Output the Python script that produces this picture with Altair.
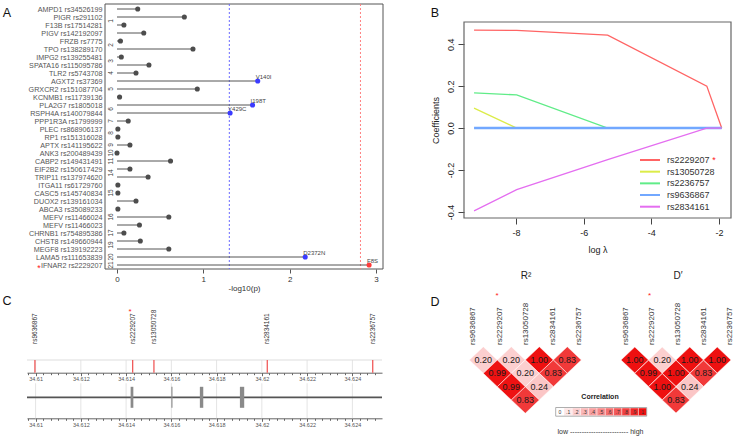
import altair as alt
import pandas as pd

FONT = "Liberation Sans"
W, H = 737, 437

# ---------------- Panel A data ----------------
a_genes = ["AMPD1", "PIGR", "F13B", "PIGV", "FRZB", "TPO", "IMPG2", "SPATA16", "TLR2", "AGXT2",
           "GRXCR2", "KCNMB1", "PLA2G7", "RSPH4A", "PPP1R3A", "PLEC", "RP1", "APTX", "ANK3", "CABP2",
           "EIF2B2", "TRIP11", "ITGA11", "CASC5", "DUOX2", "ABCA3", "MEFV", "MEFV", "CHRNB1", "CHST8",
           "MEGF8", "LAMA5", "IFNAR2"]
a_snps = ["rs34526199", "rs291102", "rs17514281", "rs142192097", "rs7775", "rs138289170", "rs139255481",
          "rs115095786", "rs5743708", "rs37369", "rs151087704", "rs11739136", "rs1805018", "rs140079844",
          "rs1799999", "rs868906137", "rs151316028", "rs141195622", "rs200489439", "rs149431491",
          "rs150617429", "rs137974620", "rs61729760", "rs145740834", "rs139161034", "rs35089233",
          "rs11466024", "rs11466023", "rs754895386", "rs149660944", "rs139192223", "rs111653839", "rs2229207"]
a_chrom = [1, 1, 1, 1, 2, 2, 3, 3, 4, 5, 5, 5, 6, 6, 7, 8, 8, 9, 10, 11, 14, 14, 15, 15, 15, 16, 16, 16,
           17, 19, 19, 20, 21]
a_neglog10p = [0.24, 0.78, 0.08, 0.31, 0.04, 0.88, 0.05, 0.37, 0.22, 1.63, 0.93, 0.03, 1.57, 1.31, 0.13,
               0.01, 0.01, 0.15, 0.00, 0.62, 0.15, 0.36, 0.01, 0.01, 0.22, 0.01, 0.60, 0.26, 0.08, 0.27,
               0.60, 2.18, 2.92]
a_aa_change = ["", "", "", "", "", "", "", "", "", "V140I", "", "", "I198T", "Y429C", "", "", "", "", "",
               "", "", "", "", "", "", "", "", "", "", "", "", "D2372N", "F8S"]
a_thr_nominal = 1.301
a_thr_bonf = 2.82

# ---------------- Panel B data ----------------
b_loglambda = [-9.24, -7.98, -5.29, -2.36, -1.92]
b_snps = ["rs2229207", "rs13050728", "rs2236757", "rs9636867", "rs2834161"]
b_coef_rs2229207 = [0.467, 0.466, 0.443, 0.200, 0.0]
b_coef_rs13050728 = [0.095, 0.0, 0.0, 0.0, 0.0]
b_coef_rs2236757 = [0.168, 0.158, 0.0, 0.0, 0.0]
b_coef_rs9636867 = [0.0, 0.0, 0.0, 0.0, 0.0]
b_coef_rs2834161 = [-0.395, -0.294, -0.150, 0.0, 0.0]
b_colors = ["#ff6464", "#dcec48", "#60ec88", "#72a8ff", "#e46ef0"]

# ---------------- Panel C data ----------------
c_snps = ["rs9636867", "rs2229207", "rs13050728", "rs2834161", "rs2236757"]
c_pos_mb = [34.60997, 34.61429, 34.61523, 34.62024, 34.62490]
c_exon_start = [34.61420, 34.61600, 34.61726, 34.61903]
c_exon_end = [34.61432, 34.61605, 34.61741, 34.61922]
c_major_ticks = [34.610, 34.612, 34.614, 34.616, 34.618, 34.620, 34.622, 34.624]

# ---------------- Panel D data ----------------
d_snps = ["rs9636867", "rs2229207", "rs13050728", "rs2834161", "rs2236757"]
d_pair_i = [0, 1, 2, 3, 0, 1, 2, 0, 1, 0]
d_pair_j = [1, 2, 3, 4, 2, 3, 4, 3, 4, 4]
d_r2 = [0.20, 0.20, 1.00, 0.83, 0.99, 0.20, 0.83, 0.99, 0.24, 0.83]
d_dprime = [1.00, 0.20, 1.00, 1.00, 0.99, 1.00, 0.83, 1.00, 0.24, 0.83]
d_legend_breaks = [0.0, 0.1, 0.2, 0.3, 0.4, 0.5, 0.6, 0.7, 0.8, 0.9, 1.0]
d_legend_labels = ["0", ".1", ".2", ".3", ".4", ".5", ".6", ".7", ".8", ".9", "1"]


def sc(dom, rng):
    return alt.Scale(domain=dom, range=rng, nice=False, zero=False)


def Q(field, scale, axis=None, ch=alt.X):
    return ch(field, type="quantitative", scale=scale, axis=axis)


def nolabel_text(text, x, y, size, **kw):
    return alt.Chart(pd.DataFrame({"t": [text]})).mark_text(
        fontSize=size, font=FONT, **kw).encode(x=alt.value(x), y=alt.value(y), text="t:N")


layers = []

# ======================= Panel A =======================
xA_dom = [-0.139, 3.081]
yA_dom = [-0.625, 32.5]
xA = sc(xA_dom, [105, 383])
yA = sc(yA_dom, [4, 269])

df_a = pd.DataFrame({
    "row": list(range(len(a_genes))),
    "label": [g + " " + s for g, s in zip(a_genes, a_snps)],
    "snp": a_snps,
    "chrom": [str(c) for c in a_chrom],
    "p": a_neglog10p,
    "aa": a_aa_change,
})
label_js = "[" + ",".join("'%s'" % l for l in df_a["label"]) + "]"

frameA_df = pd.DataFrame({"x0": [xA_dom[0]], "x1": [xA_dom[1]], "y0": [yA_dom[0]], "y1": [yA_dom[1]]})
frameA = alt.Chart(frameA_df).mark_rect(fill="white", fillOpacity=0, stroke="#555555", strokeWidth=1).encode(
    x=Q("x0", xA, alt.Axis(orient="bottom", offset=269 - H, values=[0, 1, 2, 3], tickSize=4,
                           tickColor="#555555", domain=False, grid=False, labelFontSize=8,
                           labelColor="#333333", labelPadding=2, labelFont=FONT,
                           title="-log10(p)", titleFontSize=8, titleFontWeight="normal",
                           titleColor="#333333", titlePadding=1, titleFont=FONT)),
    x2="x1:Q",
    y=Q("y0", yA, alt.Axis(orient="left", offset=-105, values=list(range(len(a_genes))),
                           labelExpr=label_js + "[datum.value]", ticks=False, domain=False,
                           grid=False, labelFontSize=7.2, labelColor="#555555", labelPadding=3,
                           labelFont=FONT, title=None, labelOverlap=False), ch=alt.Y),
    y2="y1:Q",
)
layers.append(frameA)

thr_df = pd.DataFrame({"t": [a_thr_nominal, a_thr_bonf], "kind": ["nominal", "bonf"],
                       "y0": [yA_dom[0]] * 2, "y1": [yA_dom[1]] * 2})
thrA = alt.Chart(thr_df).mark_rule(strokeDash=[2, 2], strokeWidth=1).encode(
    x=Q("t", xA), y=Q("y0", yA, ch=alt.Y), y2="y1:Q",
    color=alt.Color("kind:N", scale=alt.Scale(domain=["nominal", "bonf"], range=["#6a6aff", "#ff8080"]),
                    legend=None))
layers.append(thrA)

stemsA = alt.Chart(df_a).transform_calculate(zero="0").mark_rule(color="#555555", strokeWidth=1).encode(
    x=Q("zero", xA), x2="p:Q", y=Q("row", yA, ch=alt.Y))
layers.append(stemsA)

sig_expr = "datum.p > %f ? 'bonf' : (datum.p > %f ? 'nominal' : 'ns')" % (a_thr_bonf, a_thr_nominal)
pointsA = alt.Chart(df_a).transform_calculate(sig=sig_expr).mark_circle(size=26, opacity=1).encode(
    x=Q("p", xA), y=Q("row", yA, ch=alt.Y),
    color=alt.Color("sig:N", scale=alt.Scale(domain=["ns", "nominal", "bonf"],
                                             range=["#4d4d4d", "#3b3bff", "#ff3b3b"]), legend=None))
layers.append(pointsA)

aaA = alt.Chart(df_a).transform_filter("datum.aa != ''").mark_text(
    align="left", baseline="bottom", dx=-2, dy=-1.5, fontSize=6, font=FONT, color="#444444").encode(
    x=Q("p", xA), y=Q("row", yA, ch=alt.Y), text="aa:N")
layers.append(aaA)

chromA = alt.Chart(df_a).transform_aggregate(mid="mean(row)", groupby=["chrom"]).transform_calculate(
    cx="-0.07").mark_text(angle=270, fontSize=6.5, font=FONT, color="#444444", align="center",
                          baseline="middle").encode(
    x=Q("cx", xA), y=Q("mid", yA, ch=alt.Y), text="chrom:N")
layers.append(chromA)

starA = alt.Chart(df_a).transform_filter("datum.snp == 'rs2229207'").mark_text(
    text="*", color="#ff2020", fontSize=9, font=FONT, dy=3).encode(
    x=alt.value(39), y=Q("row", yA, ch=alt.Y))
layers.append(starA)

# ======================= Panel B =======================
xB_dom = [-9.537, -1.645]
yB_dom = [-0.429, 0.506]
xB = sc(xB_dom, [464, 731])
yB = sc(yB_dom, [218, 22])

frameB_df = pd.DataFrame({"x0": [xB_dom[0]], "x1": [xB_dom[1]], "y0": [yB_dom[0]], "y1": [yB_dom[1]]})
minus_fix = "replace(format(datum.value, '%s'), '\u2212', '-')"
frameB = alt.Chart(frameB_df).mark_rect(fill="white", fillOpacity=0, stroke="#666666", strokeWidth=1.2).encode(
    x=Q("x0", xB, alt.Axis(orient="bottom", offset=218 - H, values=[-8, -6, -4, -2], tickSize=6,
                           tickColor="#444444", domain=False, grid=False, labelFontSize=9,
                           labelColor="#222222", labelPadding=4, labelFont=FONT,
                           labelExpr=minus_fix % "d",
                           title="log \u03bb", titleFontSize=9, titleFontWeight="normal",
                           titleColor="#222222", titlePadding=8, titleFont=FONT)),
    x2="x1:Q",
    y=Q("y0", yB, alt.Axis(orient="left", offset=-464, values=[-0.4, -0.2, 0.0, 0.2, 0.4], tickSize=6,
                           tickColor="#444444", domain=False, grid=False, labelFontSize=9,
                           labelColor="#222222", labelPadding=3, labelFont=FONT, labelAngle=270,
                           labelAlign="center", labelBaseline="bottom",
                           labelExpr=minus_fix % ".1f",
                           title="Coefficients", titleFontSize=9, titleFontWeight="normal",
                           titleColor="#222222", titlePadding=6, titleFont=FONT), ch=alt.Y),
    y2="y1:Q",
)
layers.append(frameB)

b_coefs = [b_coef_rs2229207, b_coef_rs13050728, b_coef_rs2236757, b_coef_rs9636867, b_coef_rs2834161]
b_widths = [1.3, 1.3, 1.3, 2.6, 1.3]
for name, coefs, col, w in zip(b_snps, b_coefs, b_colors, b_widths):
    dfl = pd.DataFrame({"loglambda": b_loglambda, "coef": coefs})
    layers.append(alt.Chart(dfl).mark_line(color=col, strokeWidth=w).encode(
        x=Q("loglambda", xB), y=Q("coef", yB, ch=alt.Y)))

yLeg = sc([0, 4], [160, 206.7])
df_bleg = pd.DataFrame({"snp": b_snps, "k": list(range(len(b_snps)))})
layers.append(alt.Chart(df_bleg).mark_rule(strokeWidth=2).encode(
    x=alt.value(640), x2=alt.value(660), y=Q("k", yLeg, ch=alt.Y),
    color=alt.Color("snp:N", scale=alt.Scale(domain=b_snps, range=b_colors), legend=None)))
layers.append(alt.Chart(df_bleg).mark_text(align="left", baseline="middle", fontSize=9, font=FONT,
                                           color="#333333").encode(
    x=alt.value(667), y=Q("k", yLeg, ch=alt.Y), text="snp:N"))
layers.append(alt.Chart(df_bleg).transform_filter("datum.snp == 'rs2229207'").mark_text(
    text="*", color="#ff2020", fontSize=9, font=FONT, dy=0).encode(
    x=alt.value(714), y=Q("k", yLeg, ch=alt.Y)))

# ======================= Panel C =======================
xC_dom = [34.60962, 34.62531]
xC = sc(xC_dom, [27, 382])
yT = sc([0, 1], [372.7, 360])
yBt = sc([-1, 1], [418.3, 376.3])

c_minor = [round(34.610 + k * 0.002 / 6, 6) for k in range(-1, 46)]
c_minor = [v for v in c_minor if xC_dom[0] <= v <= xC_dom[1]]


def major_axis(off):
    return alt.Axis(orient="bottom", offset=off, values=c_major_ticks,
                    labelExpr="format(datum.value, '.3~f')", tickSize=3, tickColor="#666666",
                    domainColor="#666666", domainWidth=1, grid=False, labelFontSize=5.5,
                    labelColor="#555555", labelPadding=1, labelFont=FONT, title=None,
                    labelFlush=False, labelOverlap=False)


def minor_axis(off):
    return alt.Axis(orient="bottom", offset=off, values=c_minor, labels=False, tickSize=2,
                    tickColor="#666666", domain=False, grid=False, title=None)


df_ticks = pd.DataFrame({"pos": c_major_ticks})
df_span = pd.DataFrame({"x0": [xC_dom[0]], "x1": [xC_dom[1]]})
df_c = pd.DataFrame({"snp": c_snps, "pos": c_pos_mb})
df_ex = pd.DataFrame({"start": c_exon_start, "end": c_exon_end})

# top track
layers.append(alt.Chart(df_ticks).transform_calculate(y0="0", y1="1").mark_rule(
    color="#e4e4e4", strokeWidth=1).encode(
    x=Q("pos", xC, major_axis(372.7 - H)), y=Q("y0", yT, ch=alt.Y), y2="y1:Q"))
layers.append(alt.Chart(df_span).transform_calculate(y="1").mark_rule(color="#dddddd", strokeWidth=1).encode(
    x=Q("x0", xC, minor_axis(372.7 - H)), x2="x1:Q", y=Q("y", yT, ch=alt.Y)))
layers.append(alt.Chart(df_c).transform_calculate(y0="0", y1="1").mark_rule(
    color="#f05a5a", strokeWidth=1.3).encode(
    x=Q("pos", xC), y=Q("y0", yT, ch=alt.Y), y2="y1:Q"))
layers.append(alt.Chart(df_c).mark_text(angle=270, align="left", baseline="middle", fontSize=6.5,
                                        font=FONT, color="#333333").encode(
    x=Q("pos", xC), y=alt.value(344), text="snp:N"))
layers.append(alt.Chart(df_c).transform_filter("datum.snp == 'rs2229207'").mark_text(
    text="*", color="#ff2020", fontSize=8, font=FONT, dx=-2.5).encode(
    x=Q("pos", xC), y=alt.value(312)))

# bottom track
layers.append(alt.Chart(df_ticks).transform_calculate(y0="-1", y1="0.667").mark_rule(
    color="#e4e4e4", strokeWidth=1).encode(
    x=Q("pos", xC, major_axis(418.3 - H)), y=Q("y0", yBt, ch=alt.Y), y2="y1:Q"))
layers.append(alt.Chart(df_span).transform_calculate(y="0").mark_rule(color="#555555", strokeWidth=1.8).encode(
    x=Q("x0", xC, minor_axis(418.3 - H)), x2="x1:Q", y=Q("y", yBt, ch=alt.Y)))
layers.append(alt.Chart(df_ex).transform_calculate(y0="-0.5", y1="0.5").mark_rect(color="#8a8a8a").encode(
    x=Q("start", xC), x2="end:Q", y=Q("y0", yBt, ch=alt.Y), y2="y1:Q"))

# ======================= Panel D =======================
yD = sc([0, 3], [360, 400])
colorLD = alt.Scale(domain=[0, 1], range=["#ffffff", "#ee1010"], interpolate="rgb")
df_ld = pd.DataFrame({"i": d_pair_i, "j": d_pair_j, "r2": d_r2, "dp": d_dprime})
df_dl = pd.DataFrame({"snp": d_snps, "k": list(range(len(d_snps)))})
diamond = "M0,-0.95L1,0L0,0.95L-1,0Z"


def ld_panel(field, cell_range, label_range, size):
    xs = sc([0, 4], cell_range)
    xl = sc([0, 4], label_range)
    base = alt.Chart(df_ld).transform_calculate(cx="(datum.i + datum.j) / 2", rw="datum.j - datum.i - 1")
    out = [
        base.mark_point(shape=diamond, filled=True, size=size, opacity=1, stroke="white",
                        strokeWidth=0.5).encode(
            x=Q("cx", xs), y=Q("rw", yD, ch=alt.Y),
            fill=alt.Fill(field + ":Q", scale=colorLD, legend=None)),
        base.mark_text(fontSize=9, font=FONT, color="#1a1a1a").encode(
            x=Q("cx", xs), y=Q("rw", yD, ch=alt.Y), text=alt.Text(field + ":Q", format=".2f")),
        alt.Chart(df_dl).mark_text(angle=270, align="left", baseline="middle", fontSize=8, font=FONT,
                                   color="#333333").encode(
            x=Q("k", xl), y=alt.value(345), text="snp:N"),
        alt.Chart(df_dl).transform_filter("datum.snp == 'rs2229207'").mark_text(
            text="*", color="#ff2020", fontSize=8, font=FONT, dx=-2.5).encode(
            x=Q("k", xl), y=alt.value(296)),
    ]
    return out


layers += ld_panel("r2", [469.3, 581.3], [473, 579], 784)
layers += ld_panel("dp", [621, 731], [626, 730], 756)

layers.append(nolabel_text("R\u00b2", 526, 276, 10, color="#222222"))
layers.append(nolabel_text("D\u2032", 678, 276, 10, color="#222222"))

# correlation legend
xLeg = sc([0, 11], [555.7, 646.7])
df_dleg = pd.DataFrame({"b": d_legend_breaks, "lab": d_legend_labels, "k": list(range(len(d_legend_breaks)))})
layers.append(alt.Chart(df_dleg).transform_calculate(k1="datum.k + 1").mark_rect(
    stroke="white", strokeWidth=0.4).encode(
    x=Q("k", xLeg), x2="k1:Q", y=alt.value(408), y2=alt.value(415.7),
    fill=alt.Fill("b:Q", scale=colorLD, legend=None)))
layers.append(alt.Chart(pd.DataFrame({"x0": [0], "x1": [len(d_legend_breaks)]})).mark_rect(
    fill="white", fillOpacity=0, stroke="#999999", strokeWidth=0.8).encode(
    x=Q("x0", xLeg), x2="x1:Q", y=alt.value(407.5), y2=alt.value(416.2)))
layers.append(alt.Chart(df_dleg).transform_calculate(kc="datum.k + 0.5").mark_text(
    fontSize=5, font=FONT, color="#333333").encode(
    x=Q("kc", xLeg), y=alt.value(412), text="lab:N"))
layers.append(nolabel_text("Correlation", 600, 397, 7, fontWeight="bold", color="#222222"))
layers.append(nolabel_text("low " + "-" * 25 + " high", 600.5, 432, 7, color="#333333"))

# ======================= Panel letters =======================
layers.append(nolabel_text("A", 7, 13, 12.5, color="#111111"))
layers.append(nolabel_text("B", 435, 13, 12.5, color="#111111"))
layers.append(nolabel_text("C", 7, 301, 12.5, color="#111111"))
layers.append(nolabel_text("D", 435, 302, 12.5, color="#111111"))

chart = alt.layer(*layers).resolve_scale(
    x="independent", y="independent", color="independent", fill="independent"
).properties(
    width=W, height=H, padding=0, autosize=alt.AutoSizeParams(type="none"), background="white"
).configure(font=FONT).configure_view(stroke=None)

chart.save("out.html", embed_options={"renderer": "svg", "actions": False})
